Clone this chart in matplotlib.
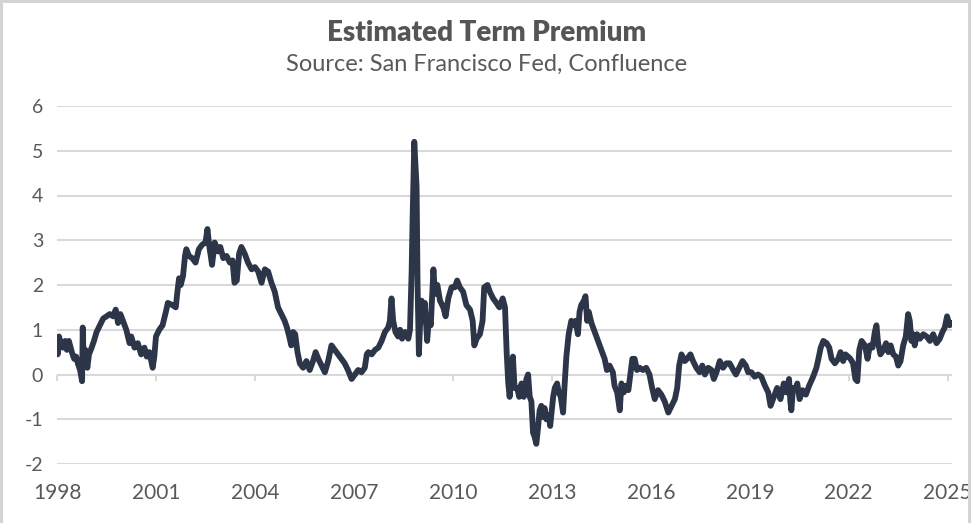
import matplotlib
matplotlib.use("Agg")
import matplotlib.pyplot as plt
from matplotlib.patches import Rectangle

# ---- data (decimal year, estimated term premium %) ----
years = [
    1998.00, 1998.02, 1998.06, 1998.12, 1998.18, 1998.25, 1998.30, 1998.36, 1998.45, 1998.52,
    1998.58, 1998.63, 1998.70, 1998.76, 1998.78, 1998.81, 1998.86, 1998.92, 1998.97, 1999.05,
    1999.12, 1999.20, 1999.30, 1999.40, 1999.50, 1999.60, 1999.70, 1999.78, 1999.85, 1999.92,
    2000.00, 2000.10, 2000.20, 2000.25, 2000.35, 2000.45, 2000.55, 2000.65, 2000.72, 2000.80,
    2000.90, 2000.95, 2001.00, 2001.10, 2001.20, 2001.30, 2001.36, 2001.50, 2001.60, 2001.65,
    2001.70, 2001.75, 2001.82, 2001.88, 2001.92, 2002.00, 2002.10, 2002.20, 2002.30, 2002.40,
    2002.50, 2002.56, 2002.62, 2002.70, 2002.78, 2002.88, 2002.95, 2003.04, 2003.14, 2003.24,
    2003.32, 2003.38, 2003.45, 2003.52, 2003.59, 2003.69, 2003.79, 2003.90, 2004.00, 2004.10,
    2004.20, 2004.30, 2004.40, 2004.50, 2004.60, 2004.70, 2004.80, 2004.90, 2004.97, 2005.04,
    2005.10, 2005.16, 2005.22, 2005.29, 2005.36, 2005.46, 2005.56, 2005.66, 2005.76, 2005.84,
    2005.92, 2006.02, 2006.12, 2006.22, 2006.32, 2006.42, 2006.52, 2006.62, 2006.72, 2006.82,
    2006.93, 2007.03, 2007.13, 2007.23, 2007.33, 2007.39, 2007.44, 2007.54, 2007.64, 2007.74,
    2007.84, 2007.94, 2008.04, 2008.09, 2008.14, 2008.19, 2008.26, 2008.34, 2008.40, 2008.46,
    2008.55, 2008.65, 2008.70, 2008.75, 2008.78, 2008.83, 2008.90, 2008.93, 2008.97, 2009.01,
    2009.05, 2009.10, 2009.15, 2009.22, 2009.28, 2009.33, 2009.41, 2009.46, 2009.53, 2009.61,
    2009.71, 2009.78, 2009.86, 2009.96, 2010.06, 2010.13, 2010.21, 2010.31, 2010.41, 2010.52,
    2010.60, 2010.65, 2010.72, 2010.82, 2010.90, 2010.95, 2011.05, 2011.12, 2011.22, 2011.32,
    2011.41, 2011.51, 2011.58, 2011.63, 2011.68, 2011.72, 2011.77, 2011.82, 2011.87, 2011.95,
    2012.01, 2012.08, 2012.15, 2012.23, 2012.28, 2012.33, 2012.38, 2012.43, 2012.48, 2012.53,
    2012.58, 2012.63, 2012.68, 2012.73, 2012.78, 2012.83, 2012.90, 2012.95, 2013.04, 2013.09,
    2013.16, 2013.21, 2013.27, 2013.34, 2013.39, 2013.44, 2013.51, 2013.59, 2013.66, 2013.72,
    2013.79, 2013.84, 2013.89, 2013.97, 2014.02, 2014.07, 2014.12, 2014.20, 2014.30, 2014.40,
    2014.50, 2014.60, 2014.67, 2014.75, 2014.85, 2014.90, 2014.98, 2015.06, 2015.11, 2015.18,
    2015.26, 2015.32, 2015.38, 2015.44, 2015.51, 2015.58, 2015.66, 2015.76, 2015.86, 2015.96,
    2016.04, 2016.12, 2016.22, 2016.32, 2016.42, 2016.53, 2016.63, 2016.73, 2016.80, 2016.86,
    2016.93, 2017.03, 2017.10, 2017.20, 2017.28, 2017.38, 2017.48, 2017.56, 2017.64, 2017.74,
    2017.84, 2017.91, 2017.99, 2018.09, 2018.19, 2018.29, 2018.39, 2018.50, 2018.58, 2018.68,
    2018.78, 2018.88, 2018.95, 2019.05, 2019.15, 2019.25, 2019.35, 2019.46, 2019.56, 2019.63,
    2019.73, 2019.83, 2019.93, 2020.03, 2020.11, 2020.19, 2020.23, 2020.26, 2020.31, 2020.38,
    2020.44, 2020.51, 2020.60, 2020.70, 2020.80, 2020.92, 2021.02, 2021.08, 2021.15, 2021.23,
    2021.33, 2021.41, 2021.48, 2021.58, 2021.68, 2021.75, 2021.83, 2021.90, 2021.98, 2022.05,
    2022.13, 2022.20, 2022.26, 2022.32, 2022.39, 2022.49, 2022.57, 2022.64, 2022.72, 2022.79,
    2022.84, 2022.89, 2022.96, 2023.05, 2023.13, 2023.20, 2023.27, 2023.35, 2023.43, 2023.50,
    2023.57, 2023.65, 2023.73, 2023.80, 2023.85, 2023.90, 2023.95, 2024.00, 2024.07, 2024.16,
    2024.26, 2024.36, 2024.46, 2024.56, 2024.66, 2024.76, 2024.84, 2024.91, 2024.98, 2025.06,
    2025.12,
]
term_premium = [
    0.75, 0.45, 0.85, 0.70, 0.60, 0.75, 0.55, 0.75, 0.50, 0.35,
    0.40, 0.25, 0.10, -0.15, 1.05, 0.30, 0.55, 0.15, 0.45, 0.60,
    0.75, 0.95, 1.10, 1.25, 1.30, 1.35, 1.30, 1.45, 1.15, 1.35,
    1.20, 1.00, 0.70, 0.85, 0.60, 0.70, 0.45, 0.60, 0.40, 0.50,
    0.15, 0.40, 0.85, 1.00, 1.10, 1.40, 1.60, 1.55, 1.50, 1.85,
    2.15, 2.00, 2.20, 2.65, 2.80, 2.65, 2.60, 2.50, 2.80, 2.90,
    2.95, 3.25, 2.85, 2.45, 2.95, 2.75, 2.85, 2.60, 2.65, 2.50,
    2.55, 2.05, 2.10, 2.70, 2.85, 2.70, 2.50, 2.35, 2.40, 2.30,
    2.05, 2.35, 2.30, 2.05, 1.85, 1.50, 1.35, 1.20, 1.05, 0.85,
    0.65, 0.95, 0.90, 0.50, 0.25, 0.15, 0.30, 0.10, 0.30, 0.50,
    0.35, 0.20, 0.05, 0.30, 0.65, 0.55, 0.45, 0.35, 0.25, 0.10,
    -0.10, 0.00, 0.10, 0.05, 0.15, 0.45, 0.50, 0.45, 0.55, 0.60,
    0.75, 0.95, 1.05, 1.20, 1.70, 1.20, 0.95, 0.85, 1.00, 0.80,
    0.95, 0.80, 1.00, 2.30, 3.50, 5.20, 4.20, 2.00, 0.45, 1.20,
    1.65, 1.20, 1.60, 0.75, 1.30, 1.10, 2.35, 1.80, 2.00, 1.65,
    1.50, 1.30, 1.70, 1.95, 1.95, 2.10, 1.95, 1.85, 1.55, 1.45,
    1.20, 0.65, 0.80, 0.90, 1.20, 1.95, 2.00, 1.85, 1.70, 1.60,
    1.50, 1.70, 1.50, 0.50, -0.20, -0.50, -0.10, 0.40, -0.30, -0.30,
    -0.50, -0.20, -0.50, -0.10, 0.00, -0.50, -0.60, -1.30, -1.40, -1.55,
    -1.20, -0.80, -0.70, -0.95, -0.75, -1.00, -0.90, -1.15, -0.50, -0.30,
    -0.20, -0.40, -0.50, -0.85, -0.20, 0.40, 0.90, 1.20, 1.10, 1.20,
    0.90, 1.40, 1.55, 1.65, 1.75, 1.20, 1.40, 1.15, 0.95, 0.75,
    0.55, 0.35, 0.10, 0.20, 0.05, -0.25, -0.40, -0.80, -0.20, -0.40,
    -0.25, -0.35, 0.00, 0.35, 0.35, 0.10, 0.15, 0.10, 0.15, 0.00,
    -0.30, -0.55, -0.35, -0.45, -0.60, -0.85, -0.70, -0.55, -0.30, 0.20,
    0.45, 0.30, 0.35, 0.45, 0.30, 0.15, 0.05, 0.20, 0.00, 0.15,
    0.10, -0.10, 0.05, 0.30, 0.15, 0.25, 0.25, 0.10, 0.00, 0.15,
    0.30, 0.20, 0.05, 0.05, -0.05, 0.00, -0.05, -0.25, -0.40, -0.70,
    -0.50, -0.30, -0.55, -0.20, -0.40, -0.10, -0.60, -0.80, -0.30, -0.35,
    -0.20, -0.55, -0.35, -0.45, -0.25, -0.05, 0.15, 0.35, 0.60, 0.75,
    0.70, 0.60, 0.35, 0.25, 0.35, 0.50, 0.30, 0.45, 0.40, 0.35,
    0.25, -0.10, -0.15, 0.55, 0.75, 0.65, 0.35, 0.65, 0.60, 0.95,
    1.10, 0.70, 0.45, 0.55, 0.70, 0.50, 0.65, 0.45, 0.40, 0.20,
    0.30, 0.65, 0.85, 1.35, 1.20, 0.75, 0.90, 0.65, 0.90, 0.80,
    0.90, 0.85, 0.75, 0.90, 0.70, 0.80, 0.95, 1.05, 1.30, 1.10,
    1.15,
]
x_ticks = [1998, 2001, 2004, 2007, 2010, 2013, 2016, 2019, 2022, 2025]
x_tick_labels = [str(t) for t in x_ticks]
y_ticks = [-2, -1, 0, 1, 2, 3, 4, 5, 6]
y_tick_labels = [str(t) for t in y_ticks]
title = "Estimated Term Premium"
subtitle = "Source: San Francisco Fed, Confluence"

# ---- styling ----
plt.rcParams['font.family'] = ['Lato', 'DejaVu Sans']
LINE = '#2d3648'
GRID = '#d9d9d9'
TXT = '#595959'

fig = plt.figure(figsize=(9.75, 5.23), dpi=100)
W, H = 975, 523
ax = fig.add_axes([57 / W, 1 - 464 / H, (952 - 57) / W, (464 - 106) / H])

ax.plot(years, term_premium, color=LINE, lw=4.2, solid_joinstyle='round',
        solid_capstyle='round', zorder=3)

ax.set_xlim(1998, 2025.13)
ax.set_ylim(-2, 6)
ax.set_yticks(y_ticks)
ax.set_yticklabels(y_tick_labels)
ax.set_xticks(x_ticks)
ax.set_xticklabels(x_tick_labels)
ax.yaxis.grid(True, color=GRID, lw=1.5, zorder=0)
ax.set_axisbelow(True)
for s in ax.spines.values():
    s.set_visible(False)
ax.tick_params(axis='y', length=0, pad=10, labelsize=14, labelcolor=TXT)
ax.tick_params(axis='x', length=0, pad=14, labelsize=15, labelcolor=TXT)

# small tick marks hanging below the zero line
ax.vlines(x_ticks, -0.15, 0, color=GRID, lw=1.5, zorder=1, clip_on=False)

fig.text(487 / W, 1 - 33 / H, title, ha='center', va='center',
         fontsize=20, fontweight='heavy', color='#555555')
fig.text(487 / W, 1 - 64 / H, subtitle, ha='center', va='center',
         fontsize=17, color=TXT)

# frame border like the reference
fig.add_artist(Rectangle((970 / W, 0), 5 / W, 1, transform=fig.transFigure,
                         facecolor='white', edgecolor='none', zorder=10))
fig.add_artist(Rectangle((0, 0), 2.5 / W, 1, transform=fig.transFigure,
                         facecolor='#d4d4d4', edgecolor='none', zorder=11))
fig.add_artist(Rectangle((0, 1 - 2.5 / H), 970 / W, 2.5 / H, transform=fig.transFigure,
                         facecolor='#d4d4d4', edgecolor='none', zorder=11))
fig.add_artist(Rectangle((968 / W, 0), 2.5 / W, 1, transform=fig.transFigure,
                         facecolor='#d4d4d4', edgecolor='none', zorder=11))

fig.savefig('out.png', dpi=100, facecolor='white')
